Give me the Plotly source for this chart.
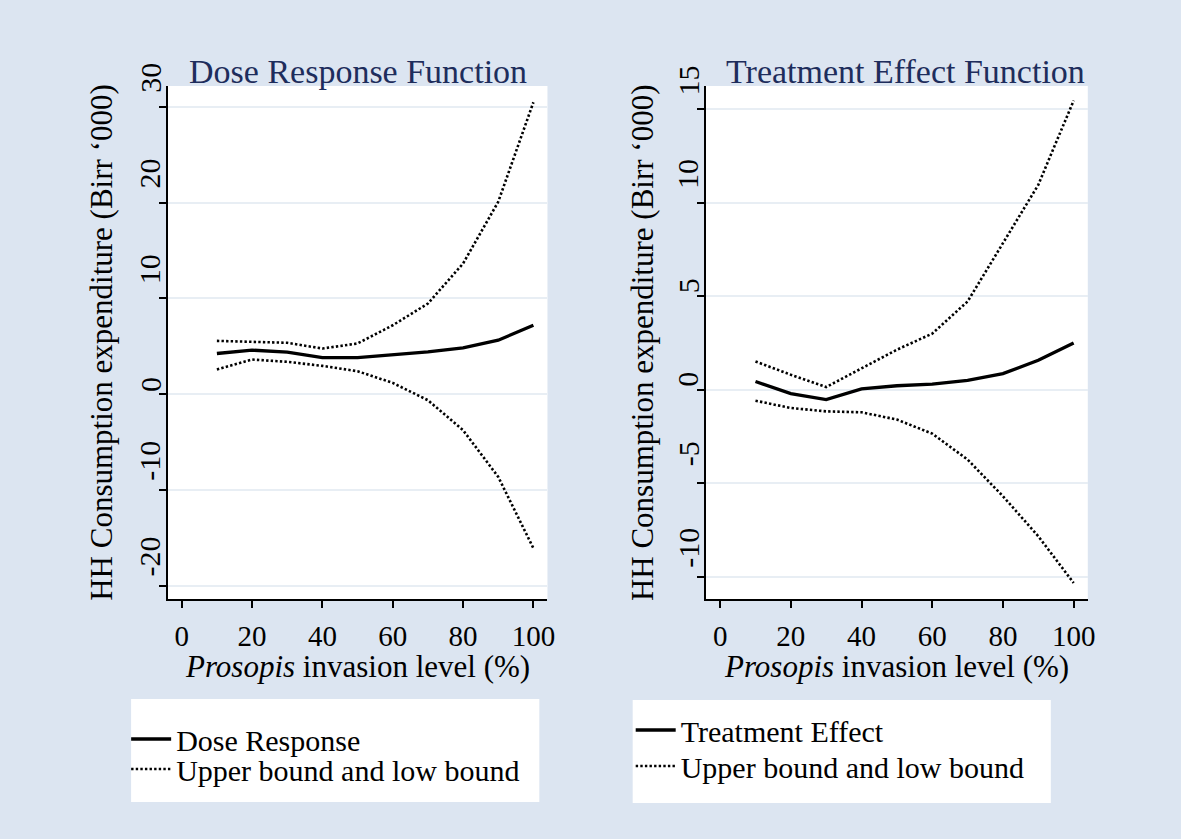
import plotly.graph_objects as go

# ---- data ----
invasion = [10, 20, 30, 40, 50, 60, 70, 80, 90, 100]
dose_response = [4.25, 4.6, 4.4, 3.83, 3.83, 4.14, 4.42, 4.84, 5.64, 7.21]
dose_upper = [5.57, 5.5, 5.37, 4.77, 5.3, 7.2, 9.47, 13.65, 20.1, 30.5]
dose_lower = [2.58, 3.62, 3.38, 2.96, 2.4, 1.18, -0.63, -3.76, -8.64, -16.1]
treat_effect = [0.44, -0.21, -0.53, 0.04, 0.21, 0.3, 0.5, 0.86, 1.57, 2.5]
treat_upper = [1.51, 0.8, 0.14, 1.16, 2.14, 3.0, 4.72, 7.84, 10.96, 15.47]
treat_lower = [-0.59, -0.98, -1.16, -1.21, -1.6, -2.35, -3.74, -5.7, -7.84, -10.34]

x_ticks = [0, 20, 40, 60, 80, 100]
left_yticks = [-20, -10, 0, 10, 20, 30]
right_yticks = [-10, -5, 0, 5, 10, 15]

titles = ["Dose Response Function", "Treatment Effect Function"]
y_title = "HH Consumption expenditure (Birr \u2018000)"
x_title = "<i>Prosopis</i> invasion level (%)"

W, H = 1181, 839
FONT = "Liberation Serif, Times New Roman, serif"
BG = "#dce5f1"
NAVY = "#1e2d5c"
GRID = "#e8eef4"

def px(v):
    return v / W

def py(v):
    return 1 - v / H

fig = go.Figure()

solid = dict(color="black", width=3.3)
dotted = dict(color="black", width=2.6, dash="2.4px,2.2px")

# left panel
fig.add_trace(go.Scatter(x=invasion, y=dose_response, mode="lines", line=solid,
                         name="Dose Response", xaxis="x", yaxis="y", legend="legend"))
fig.add_trace(go.Scatter(x=invasion, y=dose_upper, mode="lines", line=dotted,
                         name="Upper bound and low bound", xaxis="x", yaxis="y", legend="legend2"))
fig.add_trace(go.Scatter(x=invasion, y=dose_lower, mode="lines", line=dotted,
                         showlegend=False, xaxis="x", yaxis="y"))
# right panel
fig.add_trace(go.Scatter(x=invasion, y=treat_effect, mode="lines", line=solid,
                         name="Treatment Effect", xaxis="x2", yaxis="y2", legend="legend3"))
fig.add_trace(go.Scatter(x=invasion, y=treat_upper, mode="lines", line=dotted,
                         name="Upper bound and low bound", xaxis="x2", yaxis="y2", legend="legend4"))
fig.add_trace(go.Scatter(x=invasion, y=treat_lower, mode="lines", line=dotted,
                         showlegend=False, xaxis="x2", yaxis="y2"))

left_dom = [px(168.8), px(551.2)]
right_dom = [px(710.8), px(1095.2)]
y_dom = [py(599), py(86)]

xaxis_common = dict(range=[-4, 104], tickvals=x_ticks, showgrid=False, zeroline=False,
                    showline=True, linecolor="black", linewidth=1.5,
                    ticks="outside", ticklen=7, tickwidth=1.5, tickcolor="black",
                    tickfont=dict(family=FONT, size=29, color="black"),
                    ticklabelstandoff=3, fixedrange=True)
yaxis_common = dict(showgrid=True, gridcolor=GRID, gridwidth=1.5, zeroline=False,
                    showline=True, linecolor="black", linewidth=1.5,
                    ticks="outside", ticklen=7, tickwidth=1.5, tickcolor="black",
                    showticklabels=False, fixedrange=True)

legend_font = dict(family=FONT, size=30, color="black")

def legend_at(x, y):
    return dict(x=px(x), y=py(y), xanchor="left", yanchor="middle",
                bgcolor="rgba(0,0,0,0)", font=legend_font,
                tracegroupgap=0, itemwidth=40)

fig.update_layout(
    width=W, height=H,
    margin=dict(l=0, r=0, t=0, b=0),
    paper_bgcolor=BG, plot_bgcolor="white",
    font=dict(family=FONT, color="black"),
    xaxis=dict(domain=left_dom, anchor="y", **xaxis_common),
    yaxis=dict(domain=y_dom, anchor="x", range=[-21.4, 32.2], tickvals=left_yticks, **yaxis_common),
    xaxis2=dict(domain=right_dom, anchor="y2", **xaxis_common),
    yaxis2=dict(domain=y_dom, anchor="x2", range=[-11.2, 16.25], tickvals=right_yticks, **yaxis_common),
    legend=legend_at(127, 739),
    legend2=legend_at(127, 769),
    legend3=legend_at(635, 730),
    legend4=legend_at(635, 766),
    showlegend=True,
)

# legend boxes
fig.add_shape(type="rect", xref="paper", yref="paper", x0=px(132), x1=px(543),
              y0=py(802), y1=py(699), fillcolor="white", line=dict(width=0), layer="below")
fig.add_shape(type="rect", xref="paper", yref="paper", x0=px(637), x1=px(1058),
              y0=py(803), y1=py(700), fillcolor="white", line=dict(width=0), layer="below")

annotations = []
panels = [
    (left_dom, "y", left_yticks, 102, titles[0], 0),
    (right_dom, "y2", right_yticks, 647, titles[1], 9),
]
for dom, yref, ticks, ytitle_x, title, tshift in panels:
    axis_px = dom[0] * W
    # rotated y tick labels, drawn a little above their ticks as in the original
    for t in ticks:
        label = str(t)
        annotations.append(dict(
            x=px(axis_px - 18), xref="paper", y=t, yref=yref,
            text=label, textangle=-90, showarrow=False,
            xanchor="center", yanchor="middle",
            yshift=10 if len(label) == 1 else 29,
            font=dict(family=FONT, size=30, color="black")))
    cx = (dom[0] + dom[1]) / 2
    annotations.append(dict(
        x=cx, xref="paper", y=py(71), yref="paper", text=title, showarrow=False,
        xanchor="center", yanchor="middle", xshift=tshift,
        font=dict(family=FONT, size=34, color=NAVY)))
    annotations.append(dict(
        x=cx, xref="paper", y=py(666), yref="paper", text=x_title, showarrow=False,
        xanchor="center", yanchor="middle",
        font=dict(family=FONT, size=31, color="black")))
    annotations.append(dict(
        x=px(ytitle_x), xref="paper", y=(y_dom[0] + y_dom[1]) / 2, yref="paper",
        text=y_title, textangle=-90, showarrow=False,
        xanchor="center", yanchor="middle",
        font=dict(family=FONT, size=31, color="black")))

fig.update_layout(annotations=annotations)

fig.write_html(
    "out.html",
    config={"displayModeBar": False},
    post_script=(
        "document.documentElement.style.margin='0';"
        "document.documentElement.style.padding='0';"
        "document.documentElement.style.overflow='hidden';"
        "document.documentElement.style.background='" + BG + "';"
        "document.body.style.margin='0';"
        "document.body.style.padding='0';"
        "document.body.style.overflow='hidden';"
        "document.body.style.background='" + BG + "';"
    ),
)
